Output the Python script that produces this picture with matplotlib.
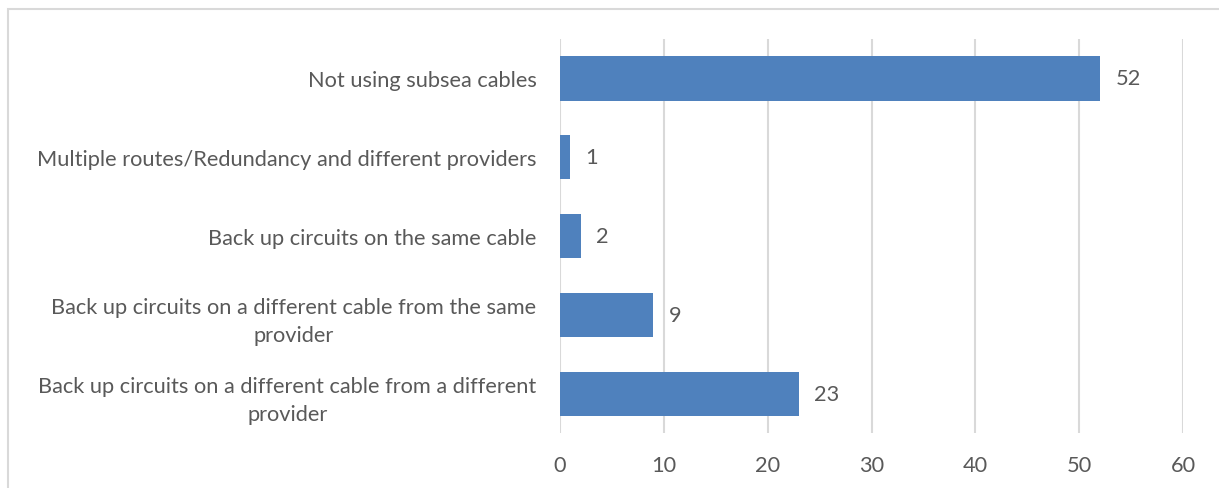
import matplotlib
matplotlib.use("Agg")
import matplotlib.pyplot as plt
from matplotlib.patches import Rectangle

categories = [
    "Back up circuits on a different cable from a different\nprovider",
    "Back up circuits on a different cable from the same\nprovider",
    "Back up circuits on the same cable",
    "Multiple routes/Redundancy and different providers",
    "Not using subsea cables",
]
values = [23, 9, 2, 1, 52]
x_ticks = [0, 10, 20, 30, 40, 50, 60]

text_color = "#595959"
bar_color = "#4f81bd"
grid_color = "#d9d9d9"

plt.rcParams["font.family"] = ["Lato", "DejaVu Sans"]
FS = 15.7

fig = plt.figure(figsize=(12.19, 4.89), dpi=100)
ax = fig.add_axes([0.4594, 0.1125, 0.5111, 0.8055])

# chart-area frame
W, H = 1219, 489
fig.patches.append(Rectangle((8 / W, -0.1), 1.2, 1 - 10 / H + 0.1,
                             transform=fig.transFigure, fill=False,
                             edgecolor=grid_color, linewidth=1.5, zorder=0))

ypos = list(range(len(categories)))
ax.barh(ypos, values, height=0.56, color=bar_color, zorder=3)

for y, v in zip(ypos, values):
    ax.annotate(str(v), (v, y), xytext=(11, 0), textcoords="offset points",
                va="center", ha="left", fontsize=FS, color=text_color)

ax.set_xlim(0, 60)
ax.set_ylim(-0.5, len(categories) - 0.5)
ax.set_xticks(x_ticks)
ax.set_yticks(ypos)
ax.set_yticklabels(categories, multialignment="center", linespacing=1.5)
ax.tick_params(axis="y", length=0, pad=17, labelsize=FS, labelcolor=text_color)
ax.tick_params(axis="x", length=0, pad=16, labelsize=FS, labelcolor=text_color)
ax.grid(axis="x", color=grid_color, linewidth=1.5, zorder=0)
for s in ax.spines.values():
    s.set_visible(False)

fig.savefig("out.png", dpi=100)
